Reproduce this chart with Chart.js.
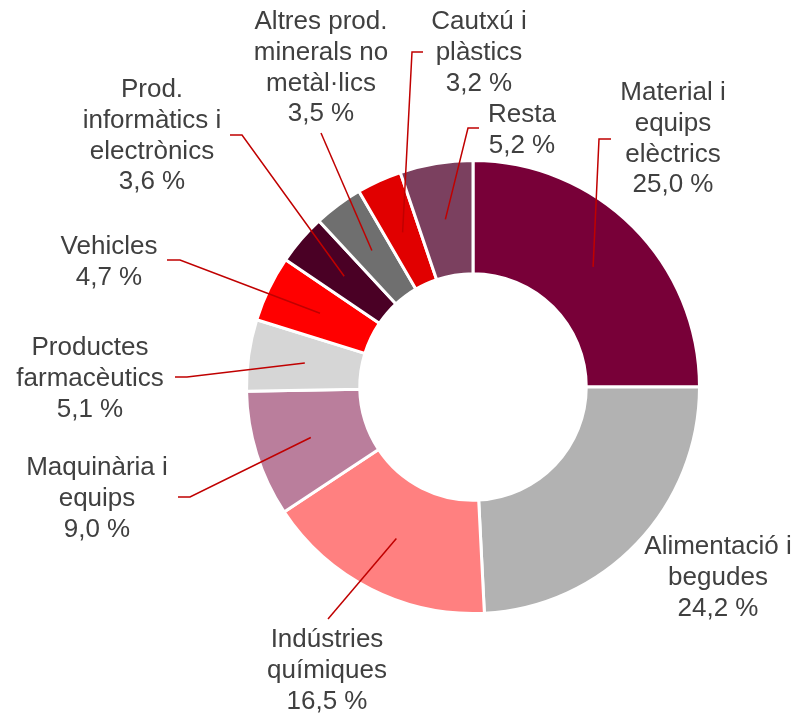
<!DOCTYPE html>
<html>
<head>
<meta charset="utf-8">
<script src="https://cdn.jsdelivr.net/npm/chart.js@4.4.1/dist/chart.umd.min.js"></script>
<style>
  html, body { margin: 0; padding: 0; background: #ffffff; }
  #c { display: block; }
</style>
</head>
<body>
<canvas id="c" width="801" height="715"></canvas>
<script>
// ---- data ----
const categories = [
  "Material i equips elèctrics",
  "Alimentació i begudes",
  "Indústries químiques",
  "Maquinària i equips",
  "Productes farmacèutics",
  "Vehicles",
  "Prod. informàtics i electrònics",
  "Altres prod. minerals no metàl·lics",
  "Cautxú i plàstics",
  "Resta"
];
const values = [25.0, 24.2, 16.5, 9.0, 5.1, 4.7, 3.6, 3.5, 3.2, 5.2];
const labelLines = [
  ["Material i", "equips", "elèctrics"],
  ["Alimentació i", "begudes"],
  ["Indústries", "químiques"],
  ["Maquinària i", "equips"],
  ["Productes", "farmacèutics"],
  ["Vehicles"],
  ["Prod.", "informàtics i", "electrònics"],
  ["Altres prod.", "minerals no", "metàl·lics"],
  ["Cautxú i", "plàstics"],
  ["Resta"]
];

// ---- styles / layout ----
const colors = ["#780038", "#b2b2b2", "#ff8080", "#ba7e9c", "#d6d6d6",
                "#ff0000", "#4a0025", "#6f6f6f", "#e10000", "#7b405f"];
// label anchor (first line centre) and leader waypoints, relative to the chart centre
const labelLayout = [
  { pos: [200, -294], path: [[126, -248], [138, -248]] },
  { pos: [245, 160],  path: null },
  { pos: [-146, 253], path: [[-145, 232]] },
  { pos: [-376, 81],  path: [[-283, 110], [-295, 110]] },
  { pos: [-383, -39], path: [[-286, -10], [-298, -10]] },
  { pos: [-364, -140], path: [[-293, -127], [-306, -127]] },
  { pos: [-321, -297], path: [[-231, -252], [-243, -252]] },
  { pos: [-152, -365], path: [[-152, -254]] },
  { pos: [6, -365],   path: [[-61, -335], [-50, -335]] },
  { pos: [49, -272],  path: [[-5, -259], [6, -259]] }
];
const LINE_H = 30.7;

function fmt(v) { return v.toFixed(1).replace('.', ',') + ' %'; }

const labelPlugin = {
  id: 'outLabels',
  afterDatasetsDraw(chart) {
    const ctx = chart.ctx;
    const meta = chart.getDatasetMeta(0);
    const ca = chart.chartArea;
    const cx = (ca.left + ca.right) / 2;
    const cy = (ca.top + ca.bottom) / 2;
    ctx.save();
    // leader lines
    ctx.strokeStyle = '#c00000';
    ctx.lineWidth = 1.5;
    ctx.lineJoin = 'miter';
    meta.data.forEach((arc, i) => {
      const lay = labelLayout[i];
      if (!lay.path) return;
      const p = arc.getCenterPoint();
      ctx.beginPath();
      ctx.moveTo(p.x, p.y);
      lay.path.forEach(pt => ctx.lineTo(cx + pt[0], cy + pt[1]));
      ctx.stroke();
    });
    // texts
    ctx.fillStyle = '#404040';
    ctx.font = '26px "Liberation Sans", Arial, sans-serif';
    ctx.textAlign = 'center';
    ctx.textBaseline = 'middle';
    meta.data.forEach((arc, i) => {
      const lay = labelLayout[i];
      const lines = labelLines[i].concat([fmt(values[i])]);
      lines.forEach((t, k) => {
        ctx.fillText(t, cx + lay.pos[0], cy + lay.pos[1] + k * LINE_H);
      });
    });
    ctx.restore();
  }
};

new Chart(document.getElementById('c'), {
  type: 'doughnut',
  data: {
    labels: categories,
    datasets: [{
      data: values,
      backgroundColor: colors,
      borderColor: '#ffffff',
      borderWidth: 3,
      hoverBorderWidth: 3,
      hoverOffset: 0
    }]
  },
  options: {
    responsive: false,
    animation: false,
    cutout: '50%',
    layout: { padding: { left: 245, right: 100, top: 159, bottom: 100 } },
    plugins: {
      legend: { display: false },
      tooltip: { enabled: false }
    },
    events: []
  },
  plugins: [labelPlugin]
});
</script>
</body>
</html>
